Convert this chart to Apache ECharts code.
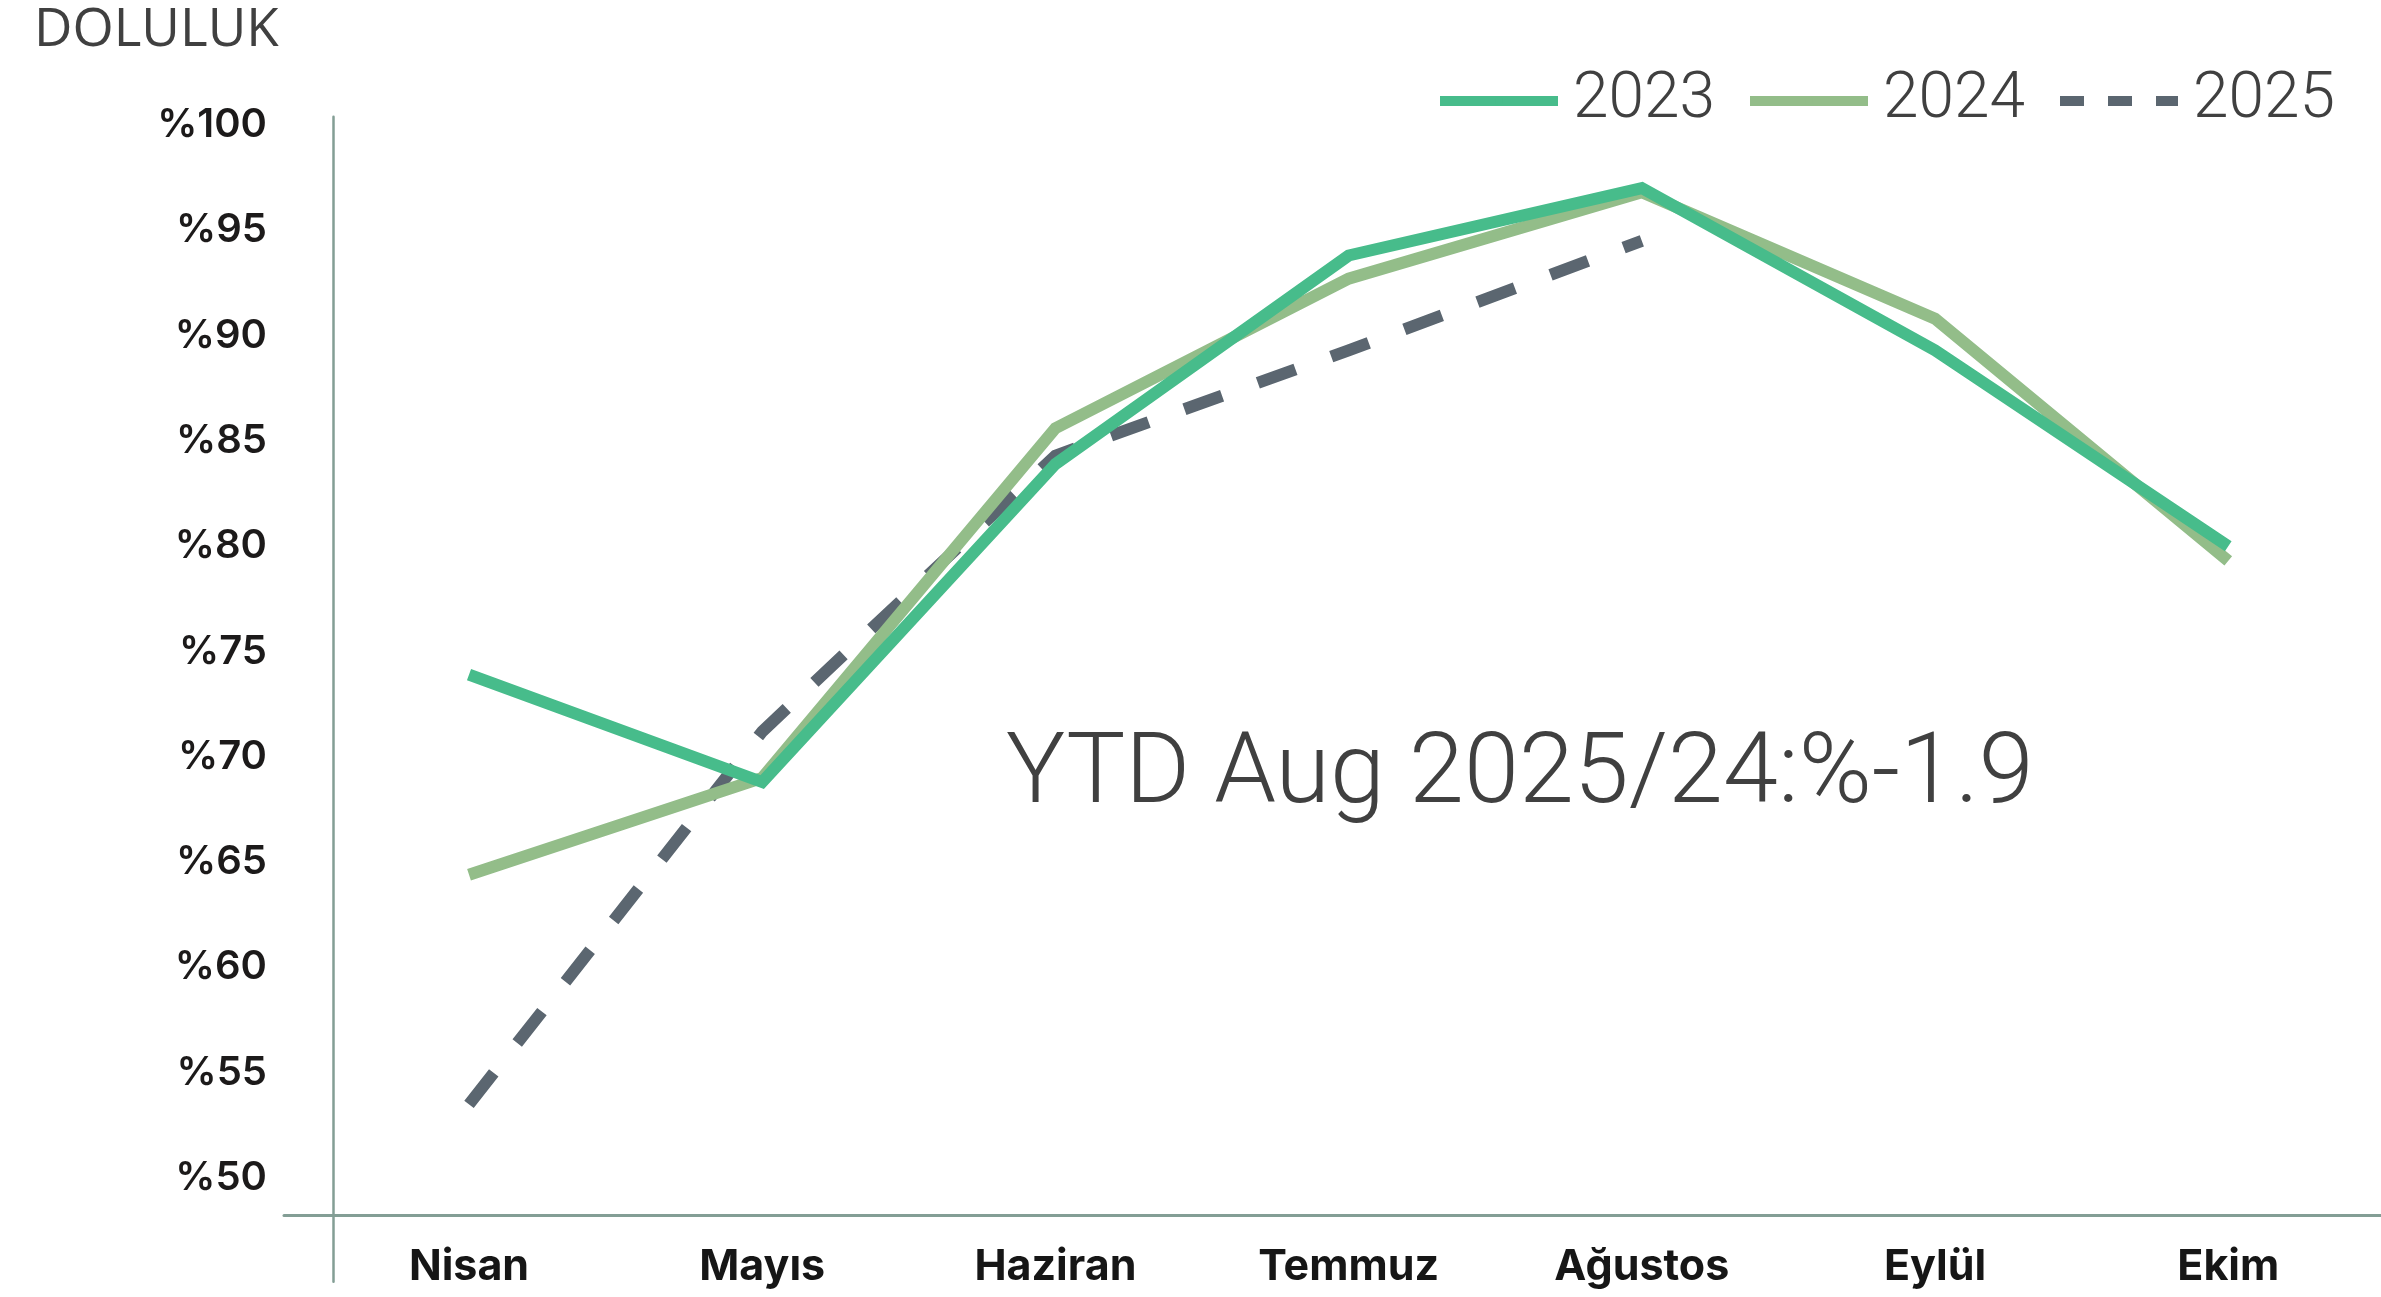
<!DOCTYPE html>
<html>
<head>
<meta charset="utf-8">
<script src="https://cdn.jsdelivr.net/npm/echarts@6/dist/echarts.min.js"></script>
<style>
html,body{margin:0;padding:0;background:#fff;}
#chart{width:2381px;height:1297px;}
</style>
</head>
<body>
<div id="chart"></div>
<script>
// ---- data ----
const months = ['Nisan', 'Mayıs', 'Haziran', 'Temmuz', 'Ağustos', 'Eylül', 'Ekim'];
const values2023 = [73.9, 68.8, 83.9, 93.8, 97.0, 89.3, 80.0];
const values2024 = [64.4, 69.0, 85.6, 92.7, 96.8, 90.8, 79.3];
const values2025 = [53.5, 71.2, 84.3, 89.3, 94.5];
const yTicks = [50, 55, 60, 65, 70, 75, 80, 85, 90, 95, 100];
const seriesNames = ['2023', '2024', '2025'];
const titleText = 'DOLULUK';
const noteText = 'YTD Aug 2025/24:%-1.9';

const toPairs = arr => arr.map((v, i) => [i, v]);

const C2023 = '#47BC8B';
const C2024 = '#93BD89';
const C2025 = '#5B6670';
const AXIS = '#839E95';

const chart = echarts.init(document.getElementById('chart'), null, {renderer: 'canvas'});

chart.setOption({
  animation: false,
  backgroundColor: '#ffffff',
  title: {
    text: titleText,
    left: 34, top: 4, padding: 0,
    textStyle: {fontFamily: 'Open Sans', fontSize: 53, fontWeight: 400, color: '#404040'}
  },
  legend: {
    data: [
      {name: '2023'},
      {name: '2024'},
      {name: '2025', lineStyle: {type: [24, 24], width: 10}}
    ],
    right: 46, top: 69, padding: 0,
    itemWidth: 118, itemHeight: 10, itemGap: 30,
    lineStyle: {width: 10},
    textStyle: {fontFamily: 'Roboto', fontSize: 64, fontWeight: 300, color: '#404040', padding: [0, 0, 0, 10]}
  },
  grid: {left: 284, right: 0, top: 116.7, bottom: 15.3, containLabel: false},
  xAxis: {
    type: 'value',
    min: -0.631, max: 6.521,
    offset: -66.7,
    axisLine: {show: true, onZero: false, lineStyle: {color: AXIS, width: 3}},
    axisTick: {show: false},
    splitLine: {show: false},
    axisLabel: {
      customValues: [0, 1, 2, 3, 4, 5, 6],
      formatter: v => months[Math.round(v)] || '',
      margin: 31,
      fontFamily: 'Inter', fontWeight: 700, fontSize: 43, color: '#161616'
    }
  },
  yAxis: {
    type: 'value',
    min: 45.08, max: 100.39,
    offset: -49,
    axisLine: {show: true, onZero: false, lineStyle: {color: AXIS, width: 2.5}},
    axisTick: {show: false},
    splitLine: {show: false},
    axisLabel: {
      customValues: yTicks,
      formatter: v => '%' + v,
      margin: 66,
      padding: [4, 0, 0, 0],
      fontFamily: 'Inter', fontWeight: 600, fontSize: 40, color: '#1c1a1a'
    }
  },
  graphic: [{
    type: 'text',
    x: 1006, y: 777,
    style: {
      text: noteText,
      fontFamily: 'Roboto', fontSize: 99, fontWeight: 300,
      fill: '#404040', verticalAlign: 'middle', align: 'left'
    }
  }],
  series: [
    {
      name: seriesNames[2], type: 'line', data: toPairs(values2025),
      symbol: 'none', z: 2,
      lineStyle: {color: C2025, width: 12, type: [40, 38], cap: 'butt', join: 'miter'},
      itemStyle: {color: C2025}
    },
    {
      name: seriesNames[1], type: 'line', data: toPairs(values2024),
      symbol: 'none', z: 3,
      lineStyle: {color: C2024, width: 12, cap: 'butt', join: 'miter'},
      itemStyle: {color: C2024}
    },
    {
      name: seriesNames[0], type: 'line', data: toPairs(values2023),
      symbol: 'none', z: 4,
      lineStyle: {color: C2023, width: 12, cap: 'butt', join: 'miter'},
      itemStyle: {color: C2023}
    }
  ]
});
</script>
</body>
</html>
